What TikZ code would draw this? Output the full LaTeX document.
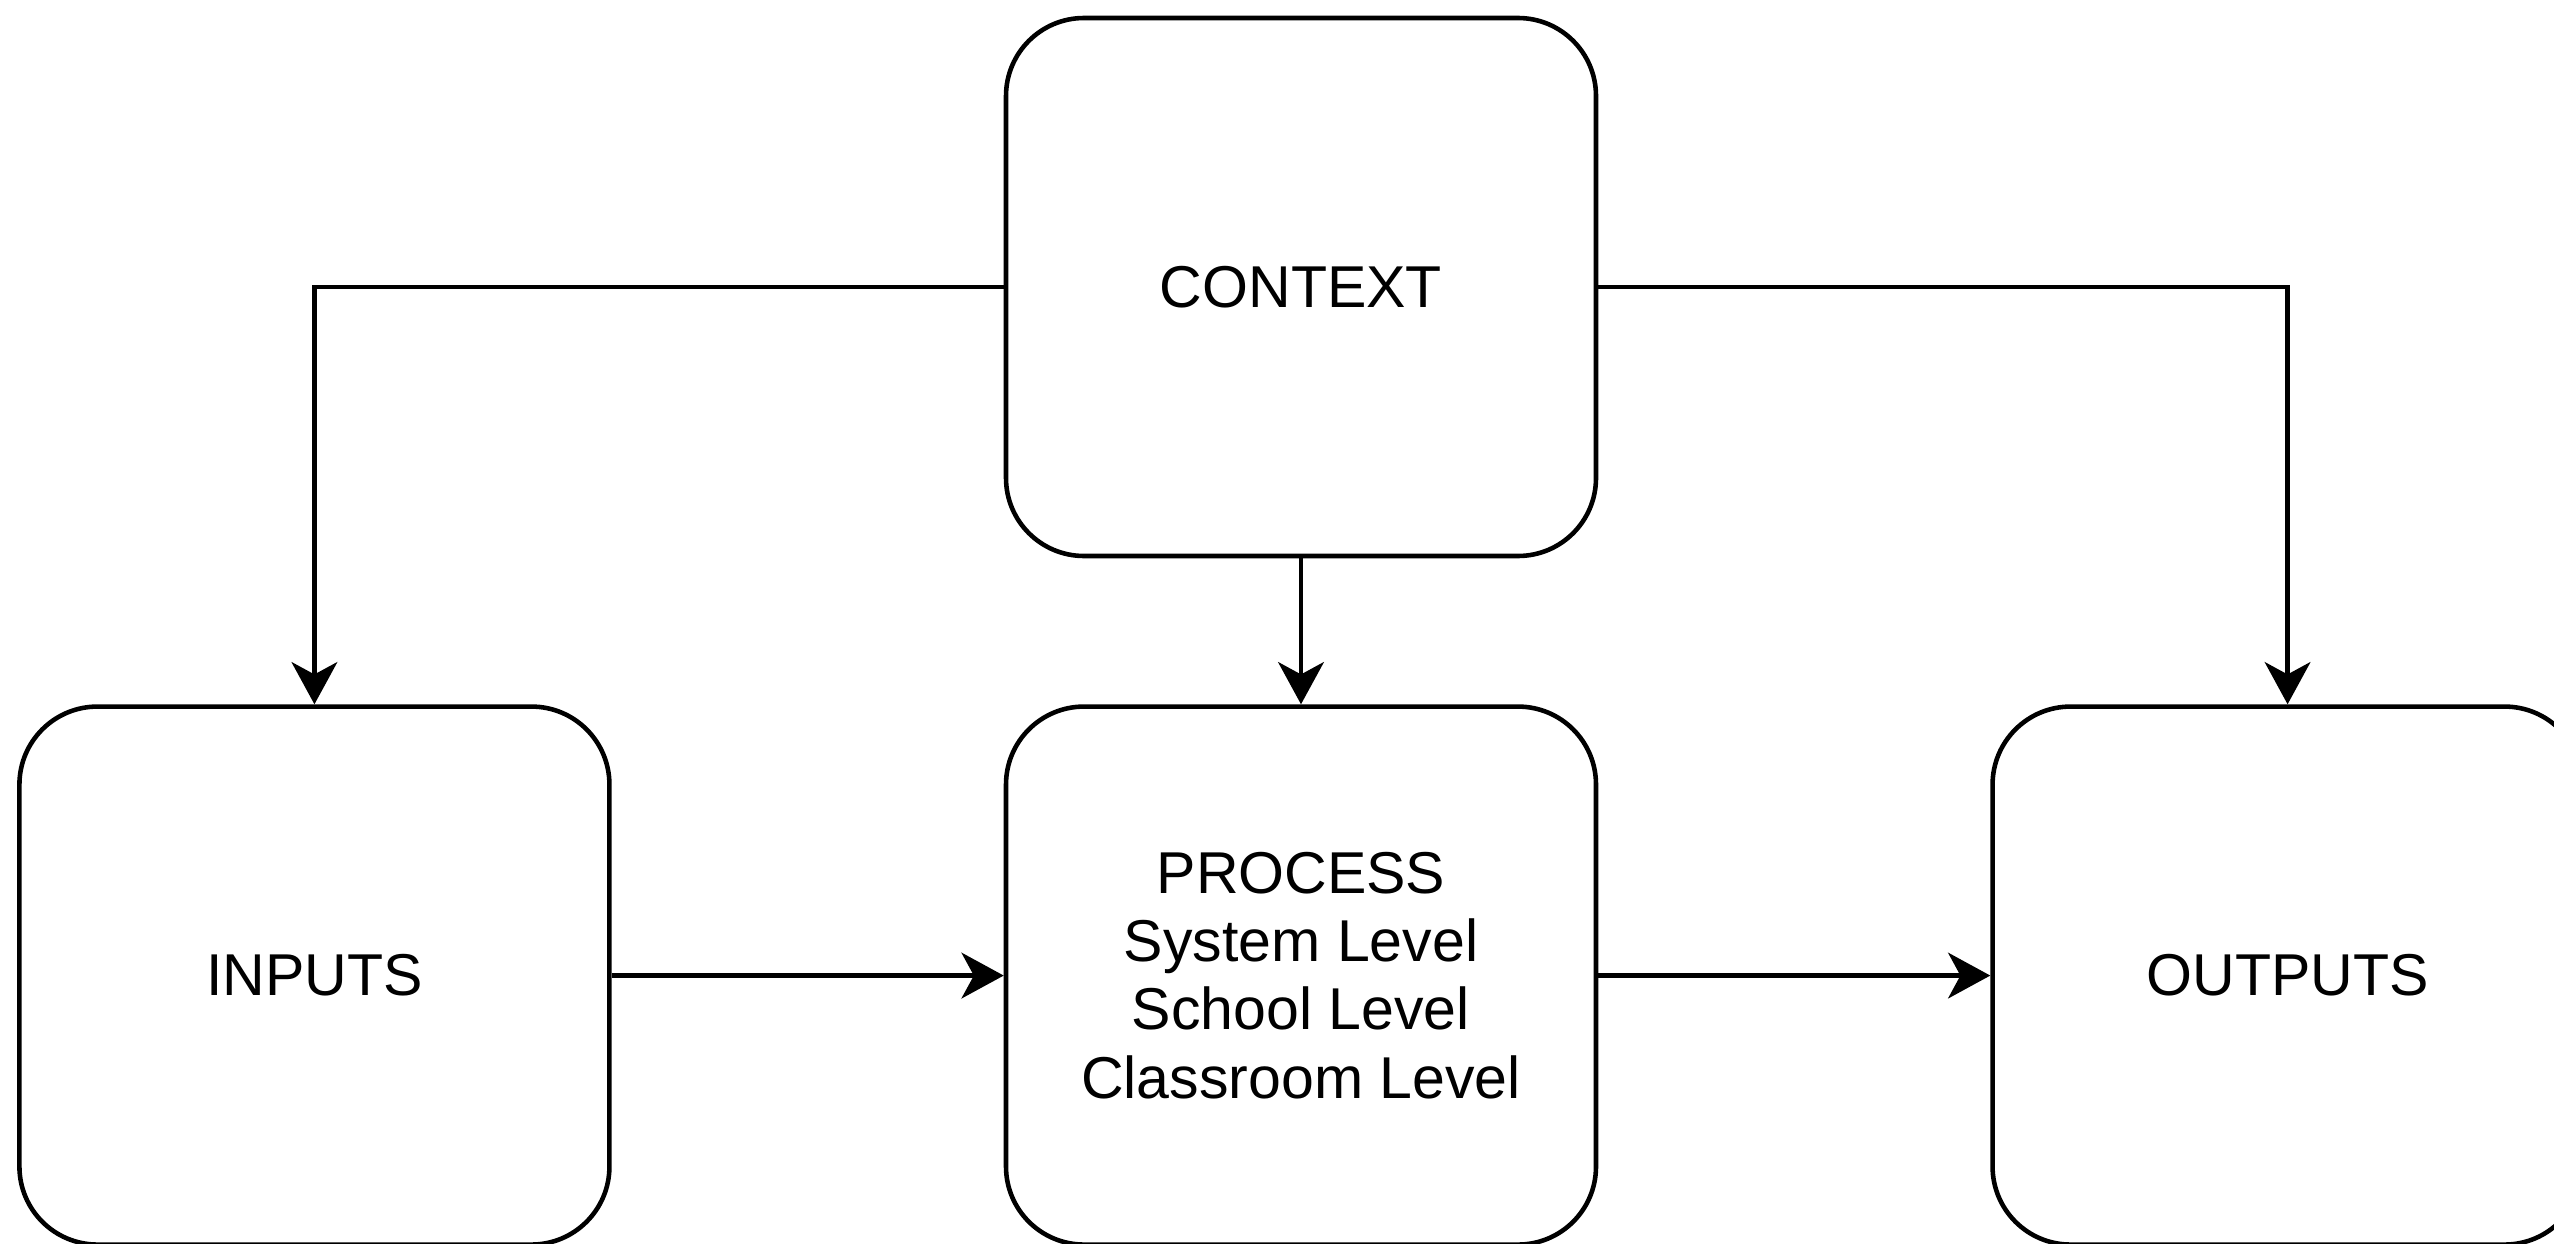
\documentclass[tikz,border=0pt]{standalone}
\usepackage{fontspec}
\setmainfont{Liberation Sans}
\usetikzlibrary{positioning,arrows.meta}
\tikzset{
  stage/.style={draw, line width=1.3pt, rounded corners=0.78cm,
    minimum width=5.9cm, minimum height=5.38cm, align=center,
    font=\fontsize{16.8}{19.4}\selectfont},
  flow/.style={-{Stealth[length=12pt, width=13pt, inset=3.5pt]}, line width=1.3pt}
}
\begin{document}
\begin{tikzpicture}[node distance=1.46cm and 3.92cm]
\useasboundingbox (0,0) rectangle (25.54,12.43);
\node[stage] (ctx) at (13.01,9.56) {CONTEXT};
\node[stage, below=of ctx] (proc) {PROCESS\\System Level\\School Level\\Classroom Level};
\node[stage, left=of proc] (inp) {INPUTS};
\node[stage, right=of proc] (outp) {OUTPUTS};
% context feeds all three
\draw[flow] (ctx.west) -| (inp.north);
\draw[flow] (ctx) -- (proc);
\draw[flow] (ctx.east) -| (outp.north);
\draw[flow] (inp) -- (proc);
\draw[flow] (proc) -- (outp);
\end{tikzpicture}
\end{document}
